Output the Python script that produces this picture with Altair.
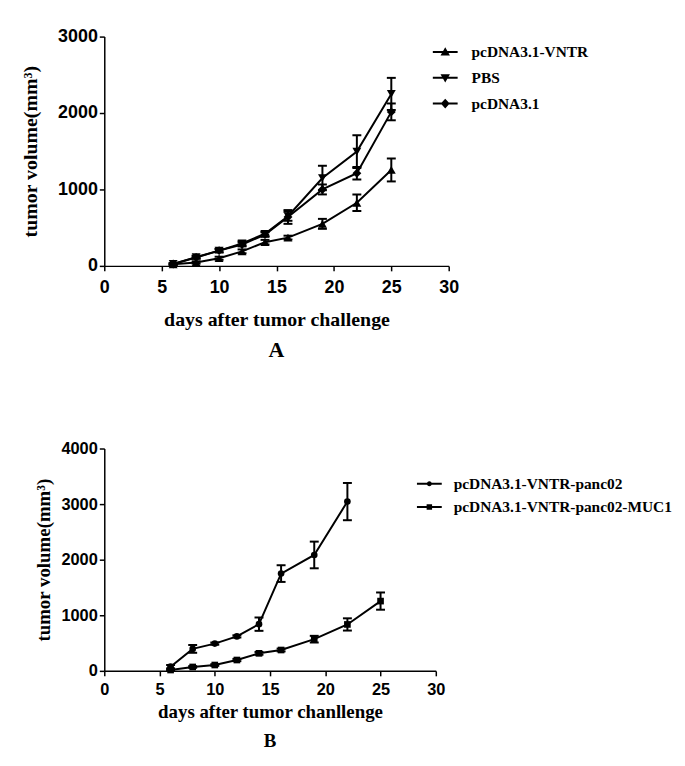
import altair as alt
import pandas as pd

# ---------------- Panel A data ----------------
days_a = [6, 8, 10, 12, 14, 16, 19, 22, 25]
series_a = ["pcDNA3.1-VNTR", "PBS", "pcDNA3.1"]
vntr_mean = [20, 45, 100, 190, 310, 370, 550, 825, 1255]
vntr_err = [10, 15, 20, 25, 30, 25, 65, 108, 150]
pbs_mean = [25, 115, 200, 295, 420, 650, 1150, 1495, 2250]
pbs_err = [10, 20, 25, 30, 30, 60, 160, 215, 210]
pcdna_mean = [25, 110, 200, 280, 410, 640, 1000, 1212, 2015]
pcdna_err = [10, 15, 20, 25, 30, 90, 65, 82, 110]

# ---------------- Panel B data ----------------
days_b1 = [6, 8, 10, 12, 14, 16, 19, 22]
days_b2 = [6, 8, 10, 12, 14, 16, 19, 22, 25]
series_b = ["pcDNA3.1-VNTR-panc02", "pcDNA3.1-VNTR-panc02-MUC1"]
panc_mean = [75, 395, 490, 620, 840, 1750, 2085, 3045]
panc_err = [30, 70, 20, 20, 120, 150, 240, 335]
muc_mean = [15, 70, 105, 195, 315, 375, 570, 835, 1255]
muc_err = [10, 15, 15, 20, 25, 25, 60, 110, 155]


def build(names, days_list, means_list, errs_list):
    rows = []
    for name, days, means, errs in zip(names, days_list, means_list, errs_list):
        for d, m, e in zip(days, means, errs):
            rows.append({"day": d, "series": name, "mean": m, "lo": m - e, "hi": m + e})
    return pd.DataFrame(rows)


df_a = build(series_a, [days_a] * 3, [vntr_mean, pbs_mean, pcdna_mean], [vntr_err, pbs_err, pcdna_err])
df_b = build(series_b, [days_b1, days_b2], [panc_mean, muc_mean], [panc_err, muc_err])

# legend symbols: a thin filled bar (the line) plus the marker, all wound clockwise
BAR = "M-1,-0.08H1V0.08H-1Z"
marker_paths_a = [
    "M0,-0.38L0.38,0.28L-0.38,0.28Z",
    "M0,0.38L-0.38,-0.28L0.38,-0.28Z",
    "M0,-0.4L0.36,0L0,0.4L-0.36,0Z",
]
marker_paths_b = [
    "M-0.2,0A0.2,0.2 0 1,1 0.2,0A0.2,0.2 0 1,1 -0.2,0Z",
    "M-0.22,-0.22H0.22V0.22H-0.22Z",
]

SERIF = "Liberation Serif"
SANS = "Liberation Sans"


def panel(df, names, shapes, paths, ymax, yvals, w, h, xtitle, letter,
          tick_fs, title_fs, xlp, xtp, ytp, letter_fs, letter_off,
          legend_x, legend_y, label_off, row_pad, psize):
    xs = alt.Scale(domain=[0, 30], nice=False)
    ys = alt.Scale(domain=[0, ymax], nice=False)
    axis_common = dict(domainColor="black", domainWidth=1.5, tickColor="black", tickWidth=1.5,
                       tickSize=5, grid=False, labelFont=SANS, labelFontWeight="bold",
                       labelFontSize=tick_fs, labelColor="black", titleFont=SERIF,
                       titleFontWeight="bold", titleFontSize=title_fs, titleColor="black",
                       format="d")
    xaxis = alt.Axis(values=[0, 5, 10, 15, 20, 25, 30], labelPadding=xlp, titlePadding=xtp,
                     title=xtitle, labelFlush=False, **axis_common)
    yaxis = alt.Axis(values=yvals, labelPadding=2, titlePadding=ytp,
                     title="tumor volume(mm³)", **axis_common)
    base = alt.Chart(df)
    x = alt.X("day:Q", scale=xs, axis=xaxis)
    line = base.mark_line(color="black", strokeWidth=2).encode(
        x=x, y=alt.Y("mean:Q", scale=ys, axis=yaxis), detail="series:N", order="day:Q")
    rule = base.mark_rule(color="black", strokeWidth=2).encode(
        x="day:Q", y="lo:Q", y2="hi:Q")
    cap_lo = base.mark_tick(color="black", orient="horizontal", size=9, thickness=2, opacity=1).encode(
        x="day:Q", y="lo:Q")
    cap_hi = base.mark_tick(color="black", orient="horizontal", size=9, thickness=2, opacity=1).encode(
        x="day:Q", y="hi:Q")
    pts = base.mark_point(filled=True, color="black", opacity=1, size=psize).encode(
        x="day:Q", y="mean:Q",
        shape=alt.Shape("series:N", scale=alt.Scale(domain=names, range=shapes), legend=None))
    # legend-only layer: invisible marks, legend symbols show line + marker
    leg = base.mark_point(filled=True, color="black", opacity=0, size=625).encode(
        x="day:Q", y="mean:Q",
        shape=alt.Shape("series:N", scale=alt.Scale(domain=names, range=[BAR + p for p in paths]),
                        legend=alt.Legend(
                            title=None, orient="none", legendX=legend_x, legendY=legend_y,
                            labelFont=SERIF, labelFontWeight="bold", labelFontSize=15.5,
                            labelColor="black", labelOffset=label_off, rowPadding=row_pad, padding=0,
                            symbolSize=625, symbolFillColor="black", symbolStrokeColor="black",
                            symbolStrokeWidth=0, symbolOpacity=1, labelLimit=400,
                        )))
    return alt.layer(line, rule, cap_lo, cap_hi, pts, leg).resolve_scale(shape="independent").properties(
        width=w, height=h,
        title=alt.TitleParams(letter, orient="bottom", font=SERIF, fontWeight="bold",
                              fontSize=letter_fs, color="black", anchor="middle", offset=letter_off),
    )


chart_a = panel(df_a, series_a, ["triangle-up", "triangle-down", "diamond"], marker_paths_a,
                3000, [0, 1000, 2000, 3000], 347, 231, "days after tumor challenge", "A",
                18, 20, 8, 13, 17, 22, 11, 331, 3, 14, 5, 80)
chart_b = panel(df_b, series_b, ["circle", "square"], marker_paths_b,
                4000, [0, 1000, 2000, 3000, 4000], 334, 224, "days after tumor chanllenge", "B",
                16.5, 19, 6, 5, 7, 19, 10, 315, 23, 12, 2.5, 45)

chart = alt.vconcat(chart_a, chart_b, spacing=184, bounds="flush").resolve_scale(
    x="independent", y="independent"
).configure_view(stroke=None).properties(
    padding={"left": 12, "top": 17, "right": 5, "bottom": 5}
)

chart.save("out.html", embed_options={"renderer": "svg", "actions": False})
